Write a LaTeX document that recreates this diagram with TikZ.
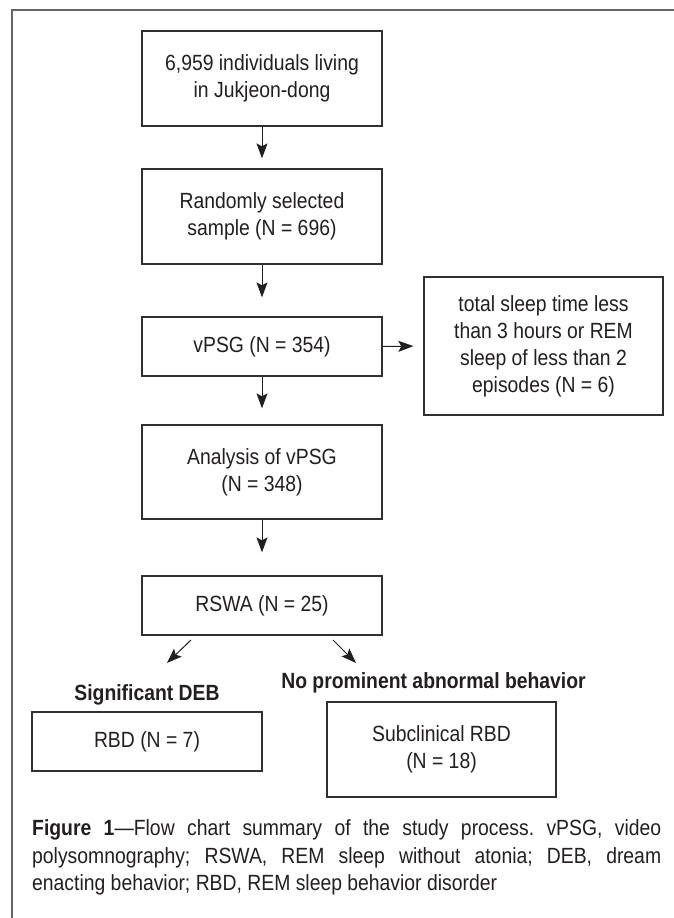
\documentclass[tikz,border=0pt]{standalone}
\usepackage{fontspec}
\setmainfont{Liberation Sans}[FakeStretch=0.88]
\usetikzlibrary{arrows.meta}
\definecolor{ink}{HTML}{231F20}
\definecolor{boxline}{HTML}{303030}
\definecolor{framec}{HTML}{666666}
\frenchspacing
\begin{document}
\begin{tikzpicture}[x=1pt,y=-1pt,
  box/.style={draw=boxline, line width=1.3pt, text=ink, align=center, inner sep=0pt,
    font=\fontsize{22}{27}\selectfont},
  arr/.style={draw=ink, line width=1pt, -{Stealth[length=15pt,width=11pt,inset=3pt]}},
  lbl/.style={text=ink, font=\fontsize{22}{27}\selectfont\bfseries, inner sep=0pt}]
\useasboundingbox (0,0) rectangle (673,918);
\fill[white] (0,0) rectangle (673,918);
\draw[framec, line width=1.3pt] (12,925) -- (12,10) -- (680,10);

\node[box, minimum width=240pt, minimum height=95pt] (b1) at (262,78.5)
  {6,959 individuals living\\in Jukjeon-dong};
\node[box, minimum width=240pt, minimum height=95pt] (b2) at (262,216.5)
  {Randomly selected\\sample (N = 696)};
\node[box, minimum width=240pt, minimum height=59pt] (b3) at (262,346.5)
  {vPSG (N = 354)};
\node[box, minimum width=240pt, minimum height=94pt] (b4) at (262,472)
  {Analysis of vPSG\\(N = 348)};
\node[box, minimum width=240pt, minimum height=59pt] (b5) at (262,605.5)
  {RSWA (N = 25)};
\node[box, minimum width=239pt, minimum height=138pt] (ex) at (543.5,346)
  {total sleep time less\\than 3 hours or REM\\sleep of less than 2\\episodes (N = 6)};
\node[box, minimum width=230pt, minimum height=59pt] (rbd) at (147,741.5)
  {RBD (N = 7)};
\node[box, minimum width=229pt, minimum height=95pt] (sub) at (441.5,749.5)
  {Subclinical RBD\\(N = 18)};

\node[lbl] (l1) at (147,695) {Significant DEB};
\node[lbl] (l2) at (433.5,683) {No prominent abnormal behavior};

\draw[arr, shorten >=10pt] (b1.south) -- (b2.north);
\draw[arr, shorten >=19pt] (b2.south) -- (b3.north);
\draw[arr, shorten >=16pt] (b3.south) -- (b4.north);
\draw[arr, shorten >=23pt] (b4.south) -- (b5.north);
\draw[arr, shorten >=10pt] (b3.east) -- (ex.west);

\coordinate (d1s) at (191,640);
\coordinate (d1e) at (167,663);
\coordinate (d2s) at (333,640);
\coordinate (d2e) at (356,663);
\draw[arr] (d1s) -- (d1e);
\draw[arr] (d2s) -- (d2e);

\node[text=ink, anchor=north west, inner sep=0pt, text width=629pt, align=justify,
  font=\fontsize{22}{27.5}\selectfont] (cap) at (32,819.5)
  {\textbf{Figure 1}---Flow chart summary of the study process. vPSG, video\linebreak
   polysomnography; RSWA, REM sleep without atonia; DEB, dream\linebreak
   enacting behavior; RBD, REM sleep behavior disorder};
\end{tikzpicture}
\end{document}
